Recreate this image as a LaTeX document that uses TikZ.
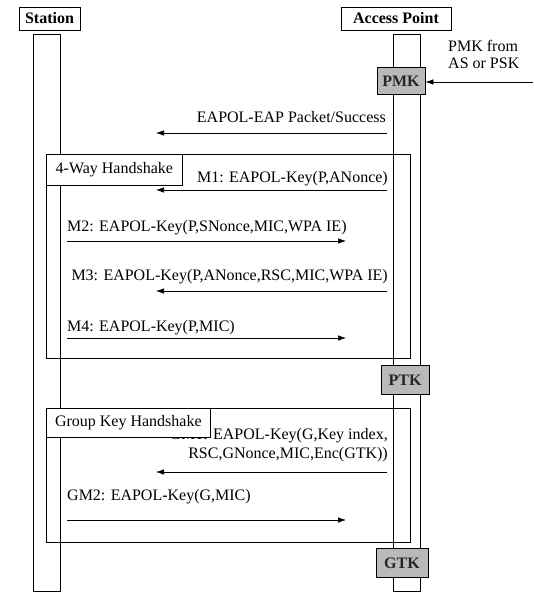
\documentclass[tikz,border=0pt]{standalone}
\usepackage{fontspec}
\setmainfont{Liberation Serif}
\usetikzlibrary{arrows.meta}

\newcommand{\msgfont}{\fontsize{16}{17.5}\selectfont}

\tikzset{
  hdr/.style={draw, line width=0.8pt, font=\msgfont\bfseries, minimum height=23pt, inner sep=0pt},
  lifeline/.style={draw, line width=0.6pt, minimum width=27pt, minimum height=557pt, inner sep=0pt},
  keybox/.style={draw, line width=0.8pt, fill=gray!55, text=black!85, font=\msgfont\bfseries,
    minimum height=27pt, minimum width=48pt, inner sep=0pt},
  msg/.style={-{Latex[length=8pt,width=5.5pt]}, line width=0.6pt},
  msgtxt/.style={font=\msgfont, inner sep=0pt},
  frame/.style={draw, line width=0.7pt},
  framelbl/.style={draw, line width=0.7pt, fill=white, font=\msgfont, anchor=north west, inner sep=0pt}
}

\begin{document}
\begin{tikzpicture}[x=1pt, y=-1pt]
      \useasboundingbox (0,0) rectangle (533,593);

      % Headers and lifelines
      \node[hdr, minimum width=61pt] (sta) at (49.5,18.5) {Station};
      \node[hdr, minimum width=110pt] (ap) at (396,18.5) {Access Point};
      \node[lifeline] (staline) at (46.5,312.5) {};
      \node[lifeline] (apline) at (406.5,312.5) {};

      % PMK delivered from the AS or PSK
      \node[keybox] (pmk) at (401,81) {PMK};
      \node[msgtxt, align=left, anchor=north west] (pmksrc) at (448,40) {PMK from\\AS or PSK};
      \coordinate (pmkin) at (533,82);
      \draw[msg] (pmkin) -- (pmk.east |- pmkin);

      % EAPOL-EAP success
      \node[msgtxt, anchor=base east] (eaptxt) at (386,123) {EAPOL-EAP Packet/Success};
      \coordinate (eaps) at (387,133);
      \coordinate (eape) at (156,133);
      \draw[msg] (eaps) -- (eape);

      % 4-Way Handshake frame
      \node[frame, anchor=north west, minimum width=364pt, minimum height=204pt, inner sep=0pt]
        (fourway) at (46,154) {};
      \node[framelbl, minimum width=136pt, minimum height=31pt] (fourlbl) at (fourway.north west)
        {4-Way Handshake};

      % M1 .. M4
      \node[msgtxt, anchor=base east] (m1txt) at (388,183) {M1: EAPOL-Key(P,ANonce)};
      \coordinate (m1s) at (387,190);
      \coordinate (m1e) at (156,190);
      \draw[msg] (m1s) -- (m1e);

      \node[msgtxt, anchor=base west] (m2txt) at (67,232) {M2: EAPOL-Key(P,SNonce,MIC,WPA IE)};
      \coordinate (m2s) at (67,241);
      \coordinate (m2e) at (346,241);
      \draw[msg] (m2s) -- (m2e);

      \node[msgtxt, anchor=base east] (m3txt) at (388,280) {M3: EAPOL-Key(P,ANonce,RSC,MIC,WPA IE)};
      \coordinate (m3s) at (387,291);
      \coordinate (m3e) at (156,291);
      \draw[msg] (m3s) -- (m3e);

      \node[msgtxt, anchor=base west] (m4txt) at (67,331) {M4: EAPOL-Key(P,MIC)};
      \coordinate (m4s) at (67,338);
      \coordinate (m4e) at (346,338);
      \draw[msg] (m4s) -- (m4e);

      % PTK
      \node[keybox, minimum height=29pt] (ptk) at (405,380) {PTK};

      % Group Key Handshake frame
      \node[frame, anchor=north west, minimum width=364pt, minimum height=134pt, inner sep=0pt]
        (group) at (46,408) {};

      % GM1 (its label box overlaps the first line)
      \node[msgtxt, font=\fontsize{16}{19.5}\selectfont, align=right, anchor=north east] (gm1txt)
        at (388,428) {GM1: EAPOL-Key(G,Key index,\\RSC,GNonce,MIC,Enc(GTK))};
      \node[framelbl, minimum width=164pt, minimum height=29pt] (grouplbl) at (group.north west)
        {Group Key Handshake};
      \coordinate (gm1s) at (387,472);
      \coordinate (gm1e) at (156,472);
      \draw[msg] (gm1s) -- (gm1e);

      % GM2
      \node[msgtxt, anchor=base west] (gm2txt) at (67,500) {GM2: EAPOL-Key(G,MIC)};
      \coordinate (gm2s) at (67,520);
      \coordinate (gm2e) at (346,520);
      \draw[msg] (gm2s) -- (gm2e);

      % GTK
      \node[keybox, minimum width=52pt, minimum height=29pt] (gtk) at (402,563) {GTK};

\end{tikzpicture}
\end{document}
